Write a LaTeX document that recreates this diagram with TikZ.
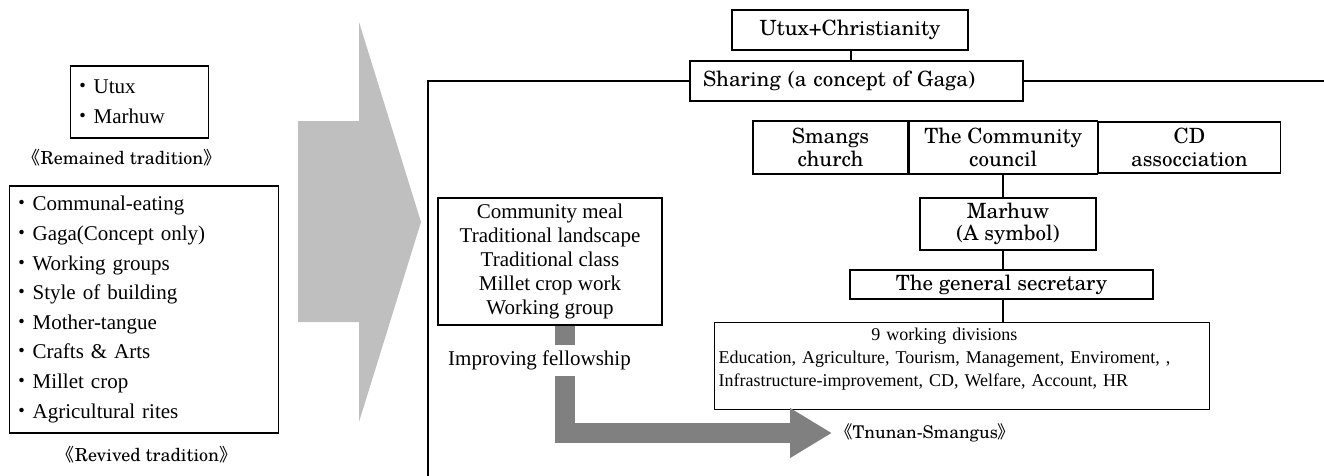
\documentclass[tikz,border=0pt]{standalone}
\usepackage{fontspec}
\newfontfamily\tms{Liberation Serif}
\newfontfamily\cjk{Noto Sans CJK SC}
\newfontfamily\cty{texgyreschola-regular.otf}
\usepackage{tikz}
\usetikzlibrary{positioning,arrows.meta}
\newcommand{\itemdot}{{\cjk ・}}
\newcommand{\lbrk}{{\cjk 《}}
\newcommand{\rbrk}{{\cjk 》}}
\tikzset{
    box/.style={draw, line width=1.2pt, inner sep=0pt, align=center,
        font=\cty\fontsize{21}{22.5}\selectfont},
    tmsbox/.style={box, font=\tms\fontsize{21}{24}\selectfont},
    caption/.style={inner sep=1pt, font=\cty\fontsize{18}{20}\selectfont},
    fatarrow/.style={draw=gray, line width=20pt,
        -{Triangle[length=42pt,width=47pt]}},
}
\begin{document}
\begin{tikzpicture}[x=1pt, y=-1pt]
    \useasboundingbox (0,0) rectangle (1324,475);
    % 左侧：保留与复兴的传统
    \node[tmsbox, anchor=west, text width=134pt, inner xsep=2pt, align=left,
        minimum height=72pt, font=\tms\fontsize{21}{30}\selectfont]
        (remain) at (70,102) {\itemdot Utux\\ \itemdot Marhuw};
    \node[caption] (remaincap) at (122,158) {\lbrk Remained tradition\rbrk};
    \node[tmsbox, anchor=west, text width=265pt, inner xsep=2pt, align=left,
        minimum height=247pt, font=\tms\fontsize{21}{29.6}\selectfont]
        (revive) at (9,309.5) {\itemdot Communal-eating\\ \itemdot Gaga(Concept only)\\
        \itemdot Working groups\\ \itemdot Style of building\\ \itemdot Mother-tangue\\
        \itemdot Crafts \& Arts\\ \itemdot Millet crop\\ \itemdot Agricultural rites};
    \node[caption] (revivecap) at (147,455) {\lbrk Revived tradition\rbrk};
    % 灰色大箭头
    \fill[gray!50] (298,121) -- (359,121) -- (359,22) -- (421,222)
        -- (359,422) -- (359,322) -- (298,322) -- cycle;
    % 右侧：组织结构
    \node[box, minimum width=236pt, minimum height=40pt] (utux) at (850,30) {Utux+Christianity};
    \node[box, text width=307pt, inner xsep=13pt, align=left, minimum height=40pt]
        (share) at (856.5,81) {Sharing (a concept of Gaga)};
    \draw[line width=1.2pt] (utux.south -| 851,0) -- (share.north -| 851,0);
    % 外框
    \draw[line width=1.2pt] (share.west) -- (428,81) -- (428,478);
    \draw[line width=1.2pt] (share.east) -- (1326,81);
    \node[box, minimum width=155pt, minimum height=53pt] (church) at (830.5,147.5) {Smangs\\church};
    \node[box, minimum width=188pt, minimum height=53pt, right=0pt of church] (council) {The Community\\council};
    \node[box, minimum width=182pt, minimum height=51pt, right=0pt of council] (cdas) {CD\\assocciation};
    \node[box, minimum width=176pt, minimum height=52pt] (marhuw) at (1008,224) {Marhuw\\(A symbol)};
    \node[box, minimum width=303pt, minimum height=29pt] (secr) at (1001.5,284.5) {The general secretary};
    \node[box, anchor=north west, text width=487pt, align=left, minimum height=87pt, inner xsep=4pt,
        inner ysep=2pt, font=\tms\fontsize{18}{23}\selectfont] (divs) at (714,322)
        {\begin{tabular}{@{}l@{}}
        \multicolumn{1}{c}{9 working divisions}\\
        Education, Agriculture, Tourism, Management, Enviroment, ,\\
        Infrastructure-improvement, CD, Welfare, Account, HR\\[14pt]
        \end{tabular}};
    \draw[line width=1.2pt] (council.south -| 1003,0) -- (marhuw.north -| 1003,0);
    \draw[line width=1.2pt] (marhuw.south -| 1003,0) -- (secr.north -| 1003,0);
    \draw[line width=1.2pt] (secr.south -| 1003,0) -- (divs.north -| 1003,0);
    % 社区活动
    \node[tmsbox, minimum width=224pt, minimum height=127pt] (meal) at (550,261.5)
        {Community meal\\ Traditional landscape\\ Traditional class\\ Millet crop work\\ Working group};
    \node[caption, anchor=west, inner xsep=3pt, font=\cty\fontsize{17.5}{20}\selectfont]
        (tnunan) at (832,433) {\lbrk Tnunan-Smangus\rbrk};
    \draw[fatarrow] ([xshift=15pt]meal.south) |- (tnunan.west);
    \node[fill=white, inner xsep=2pt, inner ysep=6pt, font=\tms\fontsize{21}{24}\selectfont]
        (fellow) at (539.5,360.5) {Improving fellowship};
\end{tikzpicture}
\end{document}
